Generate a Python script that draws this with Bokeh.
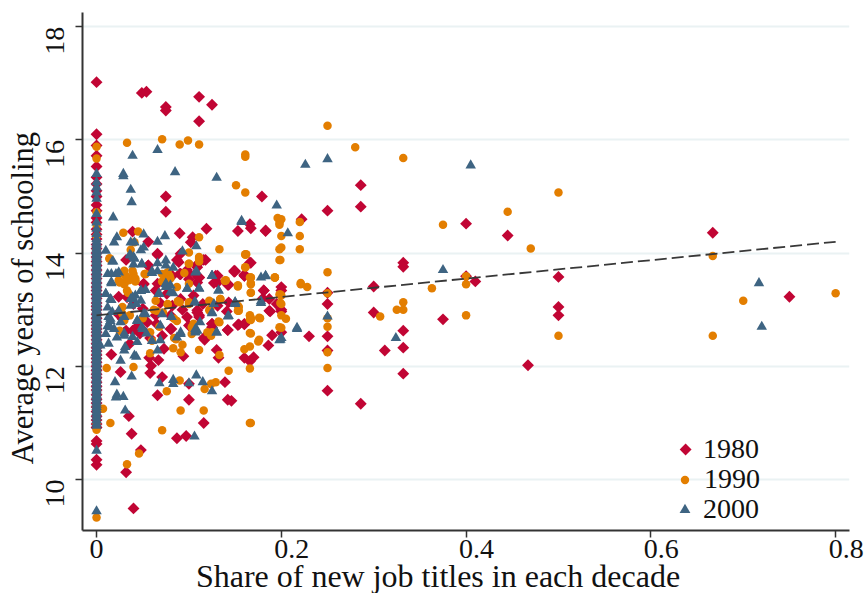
from math import pi
from bokeh.plotting import figure
from bokeh.models import Range1d, Legend, LegendItem, FixedTicker
from bokeh.embed import file_html
from bokeh.resources import INLINE

stack_1980 = [10.26,10.35,10.63,10.68,10.92,10.98,11.05,11.12,11.2,11.28,11.35,11.42,11.5,11.58,11.65,11.72,11.8,11.86,11.93,12.0,12.07,12.14,12.2,12.27,12.33,12.4,12.47,12.54,12.6,12.66,12.72,12.78,12.85,12.92,13.0,13.06,13.12,13.2,13.27,13.34,13.4,13.47,13.55,13.62,13.7,13.78,13.85,13.93,14.0,14.08,14.15,14.25,14.33,14.42,14.54,14.62,14.75,14.85,15.0,15.1,15.22,15.34,15.53,15.72,15.9,16.1,17.02]
x_1980 = [.049,.054,.075,.075,.111,.125,.111,.075,.075,.179,.119,.09,.039,.056,.104,.102,.153,.166,.183,.066,.032,.056,.087,.118,.109,.166,.149,.16,.09,.099,.111,.129,
          .016,.026,.071,.058,.059,.067,.057,.073,.094,.117,.066,.1,.1,.139,.142,.146,.035,.038,.116,.087,.097,.048,.032,.04,.13,.132,.17,.166,.142,.186,.153,.16,.081,.125,.125,.111,.098,.187,.181,.142,.131,.091,.098,.107,.149,.16,.051,.064,.076,.024,.033,.04,.091,.141,.109,.071,.051,.044,.028,.036,.065,.08,.05,.069,.082,.103,.115,.03,.047,.058,
          .75,.5,.5,.5,.467,.41,.4,.375,.332,.332,.332,.332,.332,.312,.3,.3,.286,.286,.286,.25,.25,.25,.25,.25,.23,.2,.2,.222,.167,.183,.2,.195,.25,.4,.445,.667,.18,.19,.16,
          .066,.091,.056,.089,.091,.098,.082,.109,.109,.1,.051,.066,.105,.046,.039,.032,.055,.08,.064,.1,.093,.023,
          .116,.167,.15,.16,.131,.143,.111,.127,.181,.187,.188,.2,.131,.143,.111,.109,.142,.154,.16,.125,.2,.116]
y_1980 = [16.83,16.85,16.58,16.52,16.76,16.62,16.33,15.0,14.73,15.0,14.43,14.35,14.38,14.2,14.28,14.19,14.39,14.51,14.39,13.97,13.88,13.78,13.88,13.88,13.8,13.83,13.69,13.6,13.63,13.65,13.57,13.6,
          12.21,11.9,11.81,11.88,12.01,12.11,12.15,12.31,12.18,12.47,11.49,11.69,11.41,11.72,11.41,11.39,11.12,10.81,11.0,10.73,10.77,10.52,10.13,9.49,12.29,12.15,12.16,12.09,12.64,12.37,12.73,12.75,12.66,12.75,12.69,12.87,12.87,12.98,13.34,13.44,13.48,13.63,13.64,13.63,13.67,13.6,13.45,13.34,13.28,13.23,13.22,13.1,13.19,12.97,12.95,12.54,12.63,12.7,12.84,12.4,12.75,12.9,13.02,13.12,13.07,13.15,13.1,12.6,12.58,12.5,
          13.23,13.58,13.05,12.9,12.02,13.5,13.59,12.83,13.83,13.76,12.63,12.33,11.87,12.28,12.95,13.41,11.34,15.2,14.82,11.57,12.28,12.53,13.1,13.3,12.53,13.34,13.0,14.6,14.44,14.4,13.4,13.1,14.75,14.52,14.31,14.36,13.2,12.55,12.15,
          13.99,13.99,13.78,13.84,13.63,13.7,13.6,13.75,13.48,13.54,13.46,13.46,13.25,12.63,12.63,12.63,12.78,12.66,12.9,12.72,13.0,12.93,
          13.88,13.83,13.68,13.62,13.6,13.44,13.57,13.47,13.34,13.19,12.97,12.97,13.07,13.13,12.9,12.99,12.64,12.74,12.74,12.75,12.6,12.5]

stack_1990 = [9.33,10.88,11.0,11.28,11.6,11.9,12.1,12.4,12.7,13.0,13.3,13.55,13.8,14.05,14.3,14.5,14.72,15.67,15.88]
x_1990 = [.033,.071,.09,.099,.111,.161,.161,.151,.161,.196,.198,.029,.045,.041,.111,.133,.161,.198,.198,.1,.111,.111,.1,.014,.037,.161,.166,.139,.193,.03,.032,.04,.042,.035,.053,.071,.077,.08,.095,
          .011,.04,.058,.111,.133,.143,.166,.166,.175,.166,.177,.166,.166,.153,.153,.133,.124,.103,.086,.083,.091,.093,.068,.087,.088,.077,.1,.123,.122,.134,.139,.153,.167,.167,.167,.193,.198,.198,.09,.076,.091,.116,.117,.124,.129,.166,.071,.015,.007,.046,.033,.03,.042,.034,.031,.025,.071,.077,.079,.052,.077,.05,.058,.084,.072,.105,.12,.028,.036,.06,
          .8,.7,.667,.667,.5,.5,.47,.445,.4,.4,.4,.375,.363,.332,.332,.332,.325,.307,.28,.25,.25,.25,.25,.25,.25,.25,.221,.228,.22,.22,.22,.2,.198,.2,.2,.2,.2,.2,.162,.16,.167,
          .014,.03,.039,.053,.077,.079,.1,.024,.033,.042,.033,.1,.087,.077,.09,.1,.064,.062,.065,.03,.028,.084,.103,.025,
          .111,.161,.161,.199,.167,.167,.167,.193,.14,.153,.221,.134,.154,.154,.124,.122,.199,.199,.205,.167,.167,.176,.132,.2,.167,.125,.176]
y_1990 = [15.95,16.01,15.92,15.99,15.92,15.74,15.7,15.2,15.07,14.62,14.53,14.36,14.38,14.19,14.28,14.07,13.98,14.07,13.88,14.01,13.93,13.85,13.81,13.91,14.06,13.75,13.57,13.51,13.57,13.63,13.59,13.63,13.5,13.52,13.63,13.5,13.6,13.55,13.65,
          11.97,11.99,12.23,12.29,12.2,11.92,11.96,12.35,12.44,12.59,12.85,12.83,12.9,13.07,12.98,12.78,12.54,12.69,12.48,12.32,12.25,12.38,12.7,12.8,13.15,13.09,13.1,13.01,13.16,13.19,13.51,13.41,13.57,13.45,13.3,13.57,13.27,12.69,11.75,11.56,11.22,11.22,11.6,11.69,11.72,11.0,10.87,11.0,11.25,10.46,10.27,13.45,13.52,13.3,13.5,13.48,13.63,13.6,13.56,13.63,13.52,12.85,12.6,12.5,12.95,12.75,12.6,13.05,12.9,12.45,
          13.29,13.16,12.54,13.95,15.07,12.54,14.08,14.73,12.9,13.45,13.59,14.5,13.38,15.68,13.13,13.0,13.0,12.88,15.87,16.25,13.66,13.29,12.85,12.7,12.25,11.97,13.45,13.4,14.55,14.3,14.07,14.6,14.5,14.3,14.1,13.25,13.1,12.9,13.98,12.3,11.0,
          13.9,13.69,13.69,13.63,13.66,13.6,13.81,13.52,13.55,13.55,13.34,13.46,13.4,13.1,13.13,13.13,13.16,13.0,12.98,12.81,12.93,12.84,12.57,12.63,
          13.9,13.97,13.75,13.88,13.57,13.47,13.3,13.57,13.52,13.43,13.47,13.19,13.05,12.98,13.13,12.99,13.27,13.12,12.84,12.86,12.82,12.86,12.79,12.68,12.58,12.6,12.47]

stack_2000 = [9.44,10.51,10.95,10.99,11.05,11.1,11.15,11.19,11.24,11.28,11.32,11.36,11.4,11.44,11.47,11.5,11.54,11.58,11.61,11.64,11.67,11.7,11.74,11.77,11.8,11.84,11.87,11.9,11.93,11.96,11.99,12.02,12.05,12.08,12.11,12.14,12.17,12.2,12.24,12.27,12.3,12.33,12.37,12.4,12.43,12.46,12.49,12.52,12.55,12.58,12.61,12.64,12.67,12.7,12.73,12.76,12.79,12.82,12.85,12.88,12.91,12.94,12.97,13.0,13.03,13.06,13.09,13.12,13.15,13.18,13.21,13.24,13.27,13.3,13.33,13.36,13.39,13.42,13.45,13.48,13.51,13.54,13.57,13.6,13.63,13.66,13.69,13.72,13.75,13.78,13.81,13.84,13.87,13.9,13.93,13.96,13.99,14.02,14.05,14.08,14.12,14.16,14.2,14.25,14.34,14.43,14.54,14.69,14.96,15.07,15.16,15.25,15.4]
x_2000 = [.039,.066,.029,.029,.085,.13,.037,.038,.018,.195,.157,.074,.051,.022,.019,.037,.041,.066,.108,.01,.051,.048,.093,.036,.04,.018,.04,.049,.066,.075,.075,.083,.066,.012,.021,.06,.108,.125,.178,
          .031,.106,.021,.022,.029,.02,.038,.083,.083,.108,.115,.125,.026,.03,.031,.041,.043,.066,.06,.069,.013,.004,.022,.03,.039,.044,.054,.049,.091,.087,.107,.107,.13,.044,.015,.012,.019,.013,.01,.026,.03,.081,.071,.053,.024,.012,.016,.01,.037,.042,.048,.048,.067,.083,.098,.111,.132,.106,.125,.142,.15,.125,.178,.198,.075,.075,.016,.053,
          .717,.72,.405,.375,.324,.25,.226,.25,.217,.207,.2,.183,.178,.157,.15,.1,.068,
          .017,.016,.016,.024,.037,.041,.049,.06,.075,.08,.068,.048,.098,.08,.01,.015,.017,.015,.015,.039,.037,.043,.03,.044,.051,.081,.05,.069,.091,.109,.112,
          .107,.125,.111,.183,.132,.107,.125,.127,.15,.143,.107,.13,.217,.199]
y_2000 = [15.72,15.82,15.4,15.36,15.43,15.33,15.12,14.9,14.63,14.84,14.57,14.3,14.33,14.28,14.19,14.19,14.19,14.2,14.12,14.04,14.1,14.05,14.03,13.97,13.93,13.85,13.8,13.8,13.82,13.87,13.78,13.74,13.68,13.63,13.63,13.68,13.68,13.6,13.57,
          11.22,10.76,11.45,11.5,11.46,11.72,11.82,11.69,11.76,11.84,11.72,11.56,12.1,12.28,12.34,12.19,12.17,12.28,12.45,12.46,12.4,12.37,12.51,12.54,12.52,12.43,12.58,12.69,12.6,12.51,12.66,12.6,12.6,12.8,12.8,12.71,12.66,12.87,12.57,12.78,12.58,12.87,12.92,12.92,12.98,13.04,13.17,13.28,13.19,13.25,13.33,13.16,13.28,13.29,13.37,13.37,13.34,13.13,12.95,12.88,13.13,13.6,13.12,12.46,13.45,13.4,13.47,13.35,
          13.47,12.7,15.55,13.7,12.5,15.66,15.56,12.88,12.68,14.35,12.5,13.6,13.15,14.55,13.1,11.7,11.7,
          13.85,13.63,13.49,13.66,13.96,13.9,13.81,13.65,13.46,13.43,13.28,13.34,13.37,13.31,13.28,13.19,12.96,12.84,12.69,13.22,13.07,13.1,12.87,12.81,12.93,12.87,12.66,12.72,12.57,12.63,12.78,
          13.66,13.6,13.38,13.59,13.34,13.13,12.94,13.1,13.13,12.89,12.63,12.6,12.66,12.47]

trend_x = [0.0, 0.8]
trend_y = [12.9, 14.2]
x_ticks = [0, 0.2, 0.4, 0.6, 0.8]
y_ticks = [10, 12, 14, 16, 18]
series_names = ["1980", "1990", "2000"]
x_title = "Share of new job titles in each decade"
y_title = "Average years of schooling"
FONT = "Liberation Serif"
PAD = "\u00a0\u00a0\u00a0"

p = figure(width=867, height=593, frame_width=767, frame_height=518, output_backend="svg", toolbar_location=None,
           x_range=Range1d(-0.0152, 0.815), y_range=Range1d(9.1, 18.25),
           min_border_left=82, min_border_right=18, min_border_top=12, min_border_bottom=63,
           background_fill_color="white", border_fill_color="white")
p.outline_line_color = None
p.xgrid.visible = False
p.ygrid.grid_line_color = "#eaf2f3"
p.ygrid.grid_line_width = 2
p.ygrid.ticker = FixedTicker(ticks=y_ticks)

for ax, ticks, title, tsize in [(p.xaxis[0], x_ticks, x_title + "\u00a0" * 7, "32px"),
                                (p.yaxis[0], y_ticks, y_title + "\u00a0" * 7, "30.5px")]:
    ax.ticker = FixedTicker(ticks=ticks)
    ax.axis_label = title
    ax.axis_label_text_font = FONT
    ax.axis_label_text_font_style = "normal"
    ax.axis_label_text_font_size = tsize
    ax.axis_label_text_color = "#111111"
    ax.axis_label_text_line_height = 0.8
    ax.major_label_text_font = FONT
    ax.major_label_text_font_size = "28px"
    ax.major_label_text_color = "#111111"
    ax.axis_line_color = "#333333"
    ax.axis_line_width = 2
    ax.major_tick_line_color = "#333333"
    ax.major_tick_line_width = 1.5
    ax.major_tick_out = 7
    ax.major_tick_in = 0
    ax.minor_tick_line_color = None
p.xaxis[0].major_label_overrides = {0: "0", 0.2: PAD + "0.2", 0.4: PAD + "0.4", 0.6: PAD + "0.6", 0.8: PAD + "0.8"}
p.yaxis[0].major_label_orientation = pi / 2
p.xaxis[0].major_label_standoff = -5
p.yaxis[0].major_label_standoff = 20
p.xaxis[0].axis_label_standoff = -9
p.yaxis[0].axis_label_standoff = -5

r0 = p.scatter([0.0] * len(stack_1980) + x_1980, stack_1980 + y_1980, marker="square", angle=pi / 4, size=8.4,
               fill_color="#c10534", line_color="#c10534", line_width=0)
r1 = p.scatter([0.0] * len(stack_1990) + x_1990, stack_1990 + y_1990, marker="circle", size=8.5,
               fill_color="#e37e00", line_color="#e37e00", line_width=0)
r2 = p.scatter([0.0] * len(stack_2000) + x_2000, stack_2000 + y_2000, marker="triangle", size=10.5,
               fill_color="#3e6482", line_color="#3e6482", line_width=0)
p.line(trend_x, trend_y, line_color="#383838", line_width=1.8, line_dash="12 5")

# A rotated square loses its angle inside a legend, so the 1980 key is drawn separately.
key_1980 = p.scatter([], [], marker="square", size=1, fill_alpha=0, line_alpha=0)
p.scatter([0.6376], [10.53], marker="square", angle=pi / 4, size=8.4,
          fill_color="#c10534", line_color="#c10534", line_width=0)

# One small legend per year, so that the rows can sit closer than a single legend allows.
for name, rend, x0, y0, gw, gap in [(series_names[0], key_1980, 592, 65, 18, 11),
                                    (series_names[1], r1, 592, 35, 21, 9),
                                    (series_names[2], r2, 589, 5, 27, 5)]:
    p.add_layout(Legend(items=[LegendItem(label=name, renderers=[rend])],
                        location=(x0, y0), background_fill_alpha=0, border_line_alpha=0,
                        label_text_font=FONT, label_text_font_size="28px", label_text_color="#111111",
                        glyph_width=gw, glyph_height=gw, label_height=20, label_standoff=gap,
                        spacing=0, padding=0, margin=0), "center")

open("out.html", "w").write(file_html(p, INLINE))
